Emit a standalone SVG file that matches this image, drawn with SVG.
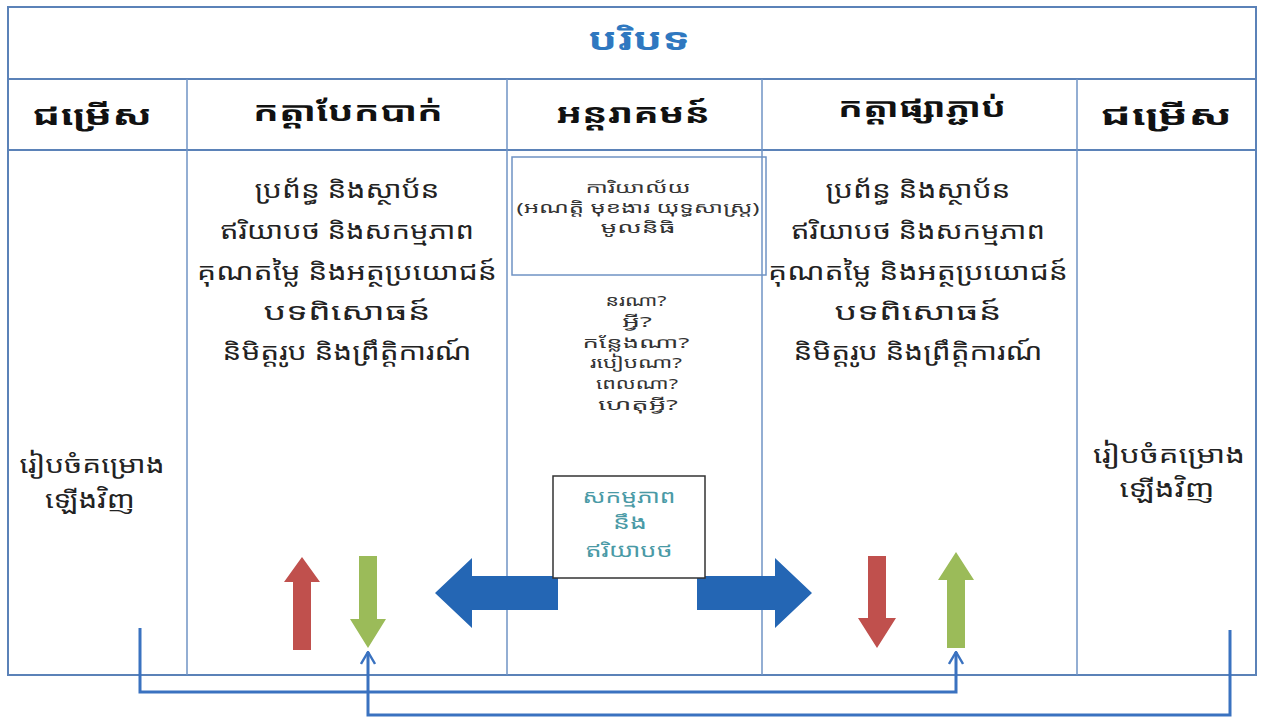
<svg xmlns="http://www.w3.org/2000/svg" width="1262" height="725" viewBox="0 0 1262 725">
<style>
.frame{fill:none;stroke:#5b82b8;stroke-width:2}
.thin{fill:none;stroke:#6f93c4;stroke-width:1.5}
.kh{font-family:"Noto Sans Khmer","Khmer OS","Noto Sans","DejaVu Sans",sans-serif;text-anchor:middle}
.hd{font-size:27px;font-weight:bold;fill:#111}
.body{font-size:24px;fill:#222}
.sm{font-size:15px;fill:#333}
.teal{font-size:19px;fill:#4a9aa6}
.title{font-size:30px;font-weight:bold;fill:#2f78c0}
.conn{fill:none;stroke:#3a72c0;stroke-width:3}
</style>
<defs>
<marker id="chev" viewBox="0 0 14 16" refX="13" refY="8" markerWidth="14" markerHeight="16" markerUnits="userSpaceOnUse" orient="auto">
<polyline points="1,1 13,8 1,15" fill="none" stroke="#3a72c0" stroke-width="2.4"/>
</marker>
</defs>
<rect width="1262" height="725" fill="#fff"/>
<g id="table">
<rect class="frame" x="8" y="7" width="1248" height="668"/>
<line class="frame" x1="8" y1="79" x2="1256" y2="79"/>
<line class="frame" x1="8" y1="150" x2="1256" y2="150"/>
<line class="thin" x1="187" y1="79" x2="187" y2="675"/>
<line class="thin" x1="507" y1="79" x2="507" y2="675"/>
<line class="thin" x1="762" y1="79" x2="762" y2="675"/>
<line class="thin" x1="1077" y1="79" x2="1077" y2="675"/>
</g>
<g id="title"><text class="kh title" x="639" y="50" textLength="102" lengthAdjust="spacingAndGlyphs">បរិបទ</text></g>
<g id="h1"><text class="kh hd" x="92" y="125" textLength="120" lengthAdjust="spacingAndGlyphs">ជម្រើស</text></g>
<g id="h2"><text class="kh hd" x="348" y="121" textLength="190" lengthAdjust="spacingAndGlyphs">កត្តាបែកបាក់</text></g>
<g id="h3"><text class="kh hd" x="633" y="123" textLength="154" lengthAdjust="spacingAndGlyphs">អន្តរាគមន៍</text></g>
<g id="h4"><text class="kh hd" x="922" y="117" textLength="168" lengthAdjust="spacingAndGlyphs">កត្តាផ្សាភ្ជាប់</text></g>
<g id="h5"><text class="kh hd" x="1166" y="125" textLength="132" lengthAdjust="spacingAndGlyphs">ជម្រើស</text></g>
<g id="col2">
<text class="kh body" x="347" y="198" textLength="185" lengthAdjust="spacingAndGlyphs">ប្រព័ន្ធ និងស្ថាប័ន</text>
<text class="kh body" x="347" y="239" textLength="254" lengthAdjust="spacingAndGlyphs">ឥរិយាបថ និងសកម្មភាព</text>
<text class="kh body" x="347" y="280" textLength="300" lengthAdjust="spacingAndGlyphs">គុណតម្លៃ និងអត្ថប្រយោជន៍</text>
<text class="kh body" x="347" y="320" textLength="167" lengthAdjust="spacingAndGlyphs">បទពិសោធន៍</text>
<text class="kh body" x="347" y="360" textLength="249" lengthAdjust="spacingAndGlyphs">និមិត្តរូប និងព្រឹត្តិការណ៍</text>
</g>
<g id="col4">
<text class="kh body" x="918" y="198" textLength="185" lengthAdjust="spacingAndGlyphs">ប្រព័ន្ធ និងស្ថាប័ន</text>
<text class="kh body" x="918" y="239" textLength="254" lengthAdjust="spacingAndGlyphs">ឥរិយាបថ និងសកម្មភាព</text>
<text class="kh body" x="918" y="280" textLength="300" lengthAdjust="spacingAndGlyphs">គុណតម្លៃ និងអត្ថប្រយោជន៍</text>
<text class="kh body" x="918" y="320" textLength="167" lengthAdjust="spacingAndGlyphs">បទពិសោធន៍</text>
<text class="kh body" x="918" y="360" textLength="249" lengthAdjust="spacingAndGlyphs">និមិត្តរូប និងព្រឹត្តិការណ៍</text>
</g>
<g id="col1">
<text class="kh body" x="92" y="473" textLength="145" lengthAdjust="spacingAndGlyphs">រៀបចំគម្រោង</text>
<text class="kh body" x="90" y="508" textLength="90" lengthAdjust="spacingAndGlyphs">ឡើងវិញ</text>
</g>
<g id="col5">
<text class="kh body" x="1169" y="463" textLength="152" lengthAdjust="spacingAndGlyphs">រៀបចំគម្រោង</text>
<text class="kh body" x="1167" y="497" textLength="95" lengthAdjust="spacingAndGlyphs">ឡើងវិញ</text>
</g>
<g id="office">
<rect x="512" y="157" width="254" height="118" fill="none" stroke="#6f93c4" stroke-width="1.5"/>
<text class="kh sm" x="638" y="193" textLength="105" lengthAdjust="spacingAndGlyphs">ការិយាល័យ</text>
<text class="kh sm" x="638" y="213" textLength="243" lengthAdjust="spacingAndGlyphs">(អណត្តិ មុខងារ យុទ្ធសាស្ត្រ)</text>
<text class="kh sm" x="638" y="233" textLength="75" lengthAdjust="spacingAndGlyphs">មូលនិធិ</text>
</g>
<g id="questions">
<text class="kh sm" x="636" y="306" textLength="61" lengthAdjust="spacingAndGlyphs">នរណា?</text>
<text class="kh sm" x="637" y="327" textLength="30" lengthAdjust="spacingAndGlyphs">អ្វី?</text>
<text class="kh sm" x="636" y="348" textLength="107" lengthAdjust="spacingAndGlyphs">កន្លែងណា?</text>
<text class="kh sm" x="636" y="368" textLength="92" lengthAdjust="spacingAndGlyphs">របៀបណា?</text>
<text class="kh sm" x="637" y="389" textLength="82" lengthAdjust="spacingAndGlyphs">ពេលណា?</text>
<text class="kh sm" x="638" y="410" textLength="80" lengthAdjust="spacingAndGlyphs">ហេតុអ្វី?</text>
</g>
<g id="blue-left"><polygon points="435,593 472,558 472,576 558,576 558,610 472,610 472,628" fill="#2466b4"/></g>
<g id="blue-right"><polygon points="812,593 775,558 775,576 697,576 697,610 775,610 775,628" fill="#2466b4"/></g>
<g id="activity">
<rect x="553" y="476" width="152" height="102" fill="#fff" stroke="#333" stroke-width="1.5"/>
<text class="kh teal" x="629" y="503" textLength="93" lengthAdjust="spacingAndGlyphs">សកម្មភាព</text>
<text class="kh teal" x="630" y="529" textLength="34" lengthAdjust="spacingAndGlyphs">នឹង</text>
<text class="kh teal" x="629" y="557" textLength="87" lengthAdjust="spacingAndGlyphs">ឥរិយាបថ</text>
</g>
<g id="red-up"><polygon points="302,557 320,582 311,582 311,650 293,650 293,582 284,582" fill="#c0504d"/></g>
<g id="green-down"><polygon points="368,648 386,619 377,619 377,556 359,556 359,619 350,619" fill="#9bbb59"/></g>
<g id="red-down"><polygon points="877,648 896,618 886,618 886,556 868,556 868,618 858,618" fill="#c0504d"/></g>
<g id="green-up"><polygon points="956,552 974,580 965,580 965,648 947,648 947,580 938,580" fill="#9bbb59"/></g>
<g id="connectors">
<polyline class="conn" points="140,628 140,692 956,692 956,652" marker-end="url(#chev)"/>
<polyline class="conn" points="1230,630 1230,715 368,715 368,652" marker-end="url(#chev)"/>
</g>
</svg>
